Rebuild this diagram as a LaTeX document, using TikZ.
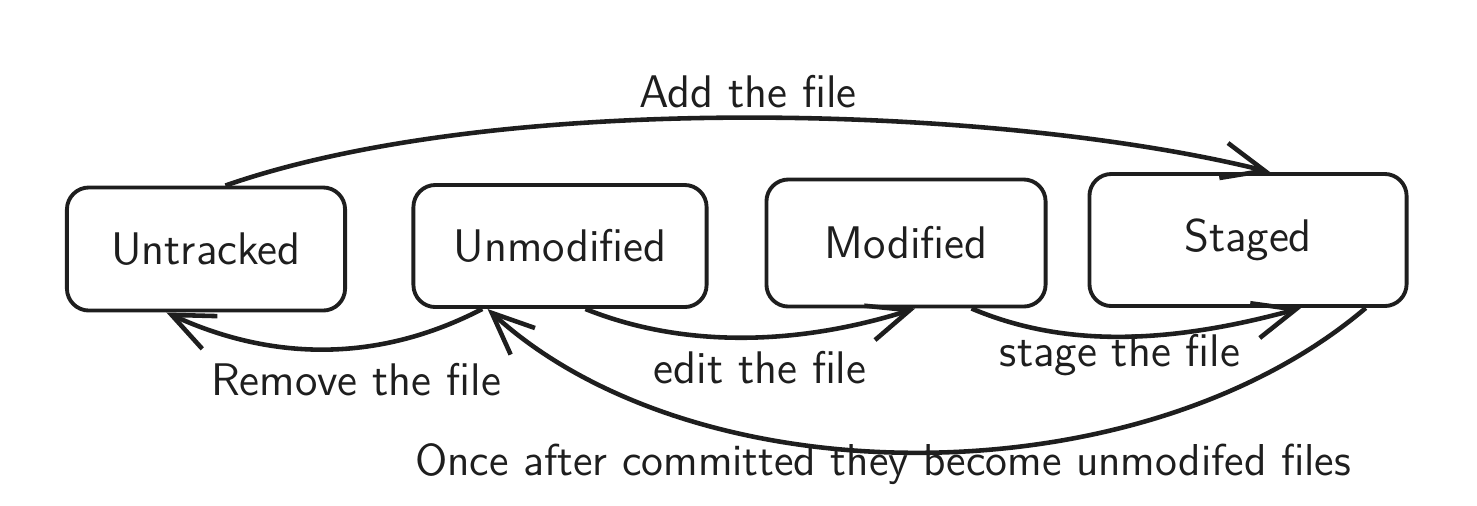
\documentclass[tikz,border=0pt]{standalone}
\usepackage{amsmath}
\usepackage{xcolor}
\usetikzlibrary{arrows.meta}

\definecolor{ink}{HTML}{1E1E1E}

\tikzset{
    statebox/.style={draw=ink, text=ink, line width=1.1pt, rounded corners=0.22cm, align=center, font=\sffamily\fontsize{13}{15}\selectfont},
    flow/.style={draw=ink, line width=1.3pt, -{Straight Barb[length=4.2mm,width=3.6mm,line width=1.3pt]}},
    flowlabel/.style={text=ink, font=\sffamily\fontsize{13}{15}\selectfont}
}

\begin{document}
\begin{tikzpicture}[x=0.01cm,y=-0.01cm]
            \useasboundingbox (0,0) rectangle (1477,505);

            \node[statebox, minimum width=2.78cm, minimum height=1.23cm] (untracked) at (206,249) {Untracked};
            \node[statebox, minimum width=2.93cm, minimum height=1.22cm] (unmodified) at (560,246) {Unmodified};
            \node[statebox, minimum width=2.79cm, minimum height=1.27cm] (modified) at (906,243) {Modified};
            \node[statebox, minimum width=3.17cm, minimum height=1.32cm] (staged) at (1248,240) {Staged};

            \draw[flow] (untracked.73) .. controls (500,90) and (1000,105) .. (staged.72);
            \draw[flow] (unmodified.219) .. controls (380,362) and (274,362) .. (untracked.238);
            \draw[flow] (unmodified.-68) .. controls (680,347) and (793,347) .. (modified.-82);
            \draw[flow] (modified.-45) .. controls (1060,346) and (1162,346) .. (staged.-52);
            \draw[flow] (staged.-30) .. controls (1140,500) and (696,500) .. (unmodified.-139);

            \node[flowlabel] (addlabel) at (748,92) {Add the file};
            \node[flowlabel] (removelabel) at (356,380) {Remove the file};
            \node[flowlabel] (editlabel) at (760,368) {edit the file};
            \node[flowlabel] (stagelabel) at (1120,355) {stage the file};
            \node[flowlabel, font=\sffamily\fontsize{12.7}{15}\selectfont] (commitlabel) at (883,464) {Once after committed they become unmodifed files};
        \end{tikzpicture}
\end{document}
